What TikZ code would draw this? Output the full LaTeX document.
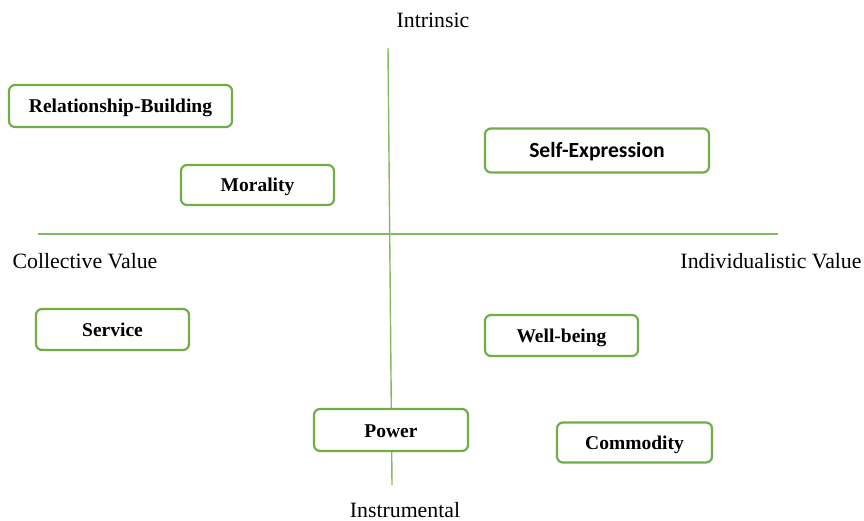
\documentclass[tikz,border=0pt]{standalone}
\usepackage{fontspec}
\setmainfont{Liberation Serif}
\newfontfamily\carlitofont{Carlito}
\definecolor{qgreen}{RGB}{112,173,71}
\begin{document}
\begin{tikzpicture}[x=1pt,y=-1pt,
  axis/.style={draw=qgreen!85, line width=1.4pt},
  qbox/.style={draw=qgreen, line width=2.2pt, rounded corners=6pt, fill=white, inner sep=0pt,
    text height=15pt, text depth=1pt,
    font=\fontsize{19.5}{21}\selectfont\bfseries},
  axlabel/.style={font=\fontsize{21.8}{24}\selectfont, inner sep=0pt}]
\useasboundingbox (0,0) rectangle (864,521);
\coordinate (vtop) at (388,48);
\coordinate (vbot) at (392,485);
\coordinate (hleft) at (38,234);
\coordinate (hright) at (778,234);
\draw[axis] (vtop) -- (vbot);
\draw[axis] (hleft) -- (hright);
\node[qbox, minimum width=223pt, minimum height=42pt] (rb) at (120.5,106) {Relationship-Building};
\node[qbox, minimum width=153pt, minimum height=40pt] (mor) at (257.5,185) {Morality};
\node[qbox, minimum width=224pt, minimum height=44pt, font=\fontsize{21.6}{23}\selectfont\carlitofont\bfseries] (se) at (597,150.5) {Self-Expression};
\node[qbox, minimum width=153pt, minimum height=41pt] (srv) at (112.5,329.5) {Service};
\node[qbox, minimum width=153pt, minimum height=41pt] (wb) at (561.5,335.5) {Well-being};
\node[qbox, minimum width=154pt, minimum height=42pt] (pow) at (391,430) {Power};
\node[qbox, minimum width=155pt, minimum height=40pt] (com) at (634.5,442.5) {Commodity};
\node[axlabel] (intr) at (433,20) {Intrinsic};
\node[axlabel] (coll) at (85,261) {Collective Value};
\node[axlabel] (indiv) at (771,261) {Individualistic Value};
\node[axlabel] (instr) at (405,510) {Instrumental};
\end{tikzpicture}
\end{document}
